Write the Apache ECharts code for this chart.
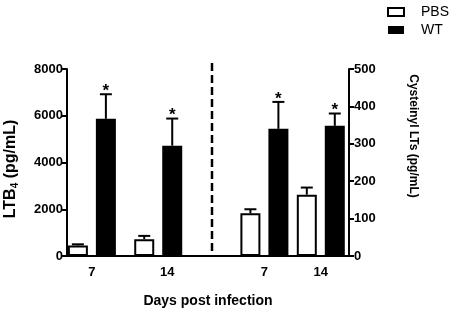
<!DOCTYPE html>
<html>
<head>
<meta charset="utf-8">
<script src="https://cdn.jsdelivr.net/npm/echarts@6/dist/echarts.min.js"></script>
<style>html,body{margin:0;padding:0;background:#fff;}#c{width:454px;height:313px;}</style>
</head>
<body>
<div id="c"></div>
<script>
// ---- data ----
const categories = ['7', '14'];
const ltb4PBS = [450, 720];
const ltb4PBSErr = [50, 140];
const ltb4WT = [5870, 4720];
const ltb4WTErr = [1050, 1160];
const ltb4PBSSig = [false, false];
const ltb4WTSig = [true, true];
const cysPBS = [114, 164];
const cysPBSErr = [11, 19];
const cysWT = [340, 348];
const cysWTErr = [72, 33];
const cysPBSSig = [false, false];
const cysWTSig = [true, true];
const leftTicks = [0, 2000, 4000, 6000, 8000];
const rightTicks = [0, 100, 200, 300, 400, 500];
const seriesNames = ['PBS', 'WT'];

// ---- layout of category slots (which slot each day group falls on) ----
const leftSlotCount = 17, leftSlotIdx = [1, 5];
const rightSlotCount = 5, rightSlotIdx = [3, 4];
const leftLabelShift = [0, 18];   // label nudges (px of left padding)
const rightLabelShift = [0, 0];

function spread(vals, idx, n, fill) {
  const a = new Array(n).fill(fill);
  idx.forEach((k, i) => { a[k] = vals[i]; });
  return a;
}
function slotNames(n) { return Array.from({length: n}, (_, i) => 's' + i); }
function labelTexts(shift) {
  return categories.map((c, i) => shift[i] ? '{p' + shift[i] + '|' + c + '}' : c);
}
const leftLabels = spread(labelTexts(leftLabelShift), leftSlotIdx, leftSlotCount, '');
const rightLabels = spread(labelTexts(rightLabelShift), rightSlotIdx, rightSlotCount, '');

const FONT = "'Liberation Sans', Arial, sans-serif";
const BAR_W = 20, GAP = 8, OFF = (BAR_W + GAP) / 2;

function errData(vals, errs, sig, idx) {
  return vals.map((v, i) => [idx[i], v, errs[i], sig[i] ? 1 : 0]);
}
function errSeries(name, xi, yi, data, offset) {
  return {
    type: 'custom', name: name + '_err', xAxisIndex: xi, yAxisIndex: yi, z: 5,
    encode: {x: 0, y: 1},
    data: data,
    renderItem: function (params, api) {
      const idx = api.value(0), v = api.value(1), e = api.value(2), s = api.value(3);
      const b = api.coord([idx, v]);
      const t = api.coord([idx, v + e]);
      const x = b[0] + offset;
      const children = [
        {type: 'line', shape: {x1: x, y1: b[1], x2: x, y2: t[1]}, style: {stroke: '#000', lineWidth: 2}},
        {type: 'line', shape: {x1: x - 6, y1: t[1], x2: x + 6, y2: t[1]}, style: {stroke: '#000', lineWidth: 2}}
      ];
      if (s) {
        children.push({type: 'text', x: x, y: t[1] - 3,
          style: {text: '*', fill: '#000', font: 'bold 17px ' + FONT, align: 'center', verticalAlign: 'middle'}});
      }
      return {type: 'group', children: children};
    }
  };
}

const chart = echarts.init(document.getElementById('c'), null, {renderer: 'canvas'});
const axisLabelStyle = {color: '#000', fontWeight: 'bold', fontSize: 13, fontFamily: FONT};
const xRich = {p18: {padding: [0, 0, 0, 18], color: '#000', fontWeight: 'bold', fontSize: 13, fontFamily: FONT}};
const option = {
  animation: false,
  backgroundColor: '#fff',
  grid: {left: 67, right: 105, top: 69, bottom: 56, containLabel: false},
  legend: {
    data: seriesNames, orient: 'vertical', left: 382, top: 0,
    itemWidth: 16, itemHeight: 8, itemGap: 4, icon: 'rect',
    textStyle: {color: '#000', fontSize: 14, fontFamily: FONT, padding: [0, 0, 0, 12]}
  },
  xAxis: [
    {type: 'category', position: 'bottom', data: slotNames(leftSlotCount),
      axisLine: {show: true, onZero: false, lineStyle: {color: '#000', width: 2}},
      axisTick: {show: false},
      axisLabel: Object.assign({interval: 0, margin: 10, formatter: (v, i) => leftLabels[i], rich: xRich}, axisLabelStyle),
      name: 'Days post infection', nameLocation: 'middle', nameGap: 38,
      nameTextStyle: {color: '#000', fontWeight: 'bold', fontSize: 14, fontFamily: FONT}
    },
    {type: 'category', position: 'bottom', data: slotNames(rightSlotCount),
      axisLine: {show: false, onZero: false},
      axisTick: {show: false},
      axisLabel: Object.assign({interval: 0, margin: 10, formatter: (v, i) => rightLabels[i], rich: xRich}, axisLabelStyle)
    }
  ],
  yAxis: [
    {type: 'value', position: 'left', min: leftTicks[0], max: leftTicks[leftTicks.length - 1],
      interval: leftTicks[1] - leftTicks[0],
      axisLine: {show: true, lineStyle: {color: '#000', width: 2}},
      axisTick: {show: true, length: 5, lineStyle: {color: '#000', width: 2}},
      axisLabel: Object.assign({margin: 4, formatter: (v) => String(v)}, axisLabelStyle),
      splitLine: {show: false}
    },
    {type: 'value', position: 'right', min: rightTicks[0], max: rightTicks[rightTicks.length - 1],
      interval: rightTicks[1] - rightTicks[0],
      axisLine: {show: true, lineStyle: {color: '#000', width: 2}},
      axisTick: {show: true, length: 5, lineStyle: {color: '#000', width: 2}},
      axisLabel: Object.assign({margin: 5, formatter: (v) => String(v)}, axisLabelStyle),
      splitLine: {show: false}
    }
  ],
  series: [
    {type: 'bar', name: 'PBS', xAxisIndex: 0, yAxisIndex: 0, barWidth: BAR_W, barGap: (GAP / BAR_W * 100) + '%',
      data: spread(ltb4PBS, leftSlotIdx, leftSlotCount, '-'),
      itemStyle: {color: '#fff', borderColor: '#000', borderWidth: 2}},
    {type: 'bar', name: 'WT', xAxisIndex: 0, yAxisIndex: 0, barWidth: BAR_W, barGap: (GAP / BAR_W * 100) + '%',
      data: spread(ltb4WT, leftSlotIdx, leftSlotCount, '-'),
      itemStyle: {color: '#000', borderColor: '#000', borderWidth: 0}},
    {type: 'bar', name: 'PBS', xAxisIndex: 1, yAxisIndex: 1, barWidth: BAR_W, barGap: (GAP / BAR_W * 100) + '%',
      data: spread(cysPBS, rightSlotIdx, rightSlotCount, '-'),
      itemStyle: {color: '#fff', borderColor: '#000', borderWidth: 2}},
    {type: 'bar', name: 'WT', xAxisIndex: 1, yAxisIndex: 1, barWidth: BAR_W, barGap: (GAP / BAR_W * 100) + '%',
      data: spread(cysWT, rightSlotIdx, rightSlotCount, '-'),
      itemStyle: {color: '#000', borderColor: '#000', borderWidth: 0}},
    errSeries('PBS', 0, 0, errData(ltb4PBS, ltb4PBSErr, ltb4PBSSig, leftSlotIdx), -OFF),
    errSeries('WT', 0, 0, errData(ltb4WT, ltb4WTErr, ltb4WTSig, leftSlotIdx), OFF),
    errSeries('PBS', 1, 1, errData(cysPBS, cysPBSErr, cysPBSSig, rightSlotIdx), -OFF),
    errSeries('WT', 1, 1, errData(cysWT, cysWTErr, cysWTSig, rightSlotIdx), OFF)
  ],
  graphic: [
    {type: 'line', shape: {x1: 212, y1: 63, x2: 212, y2: 257}, z: 10,
      style: {stroke: '#000', lineWidth: 2.5, lineDash: [8, 4]}},
    {type: 'text', x: 11, y: 169, rotation: Math.PI / 2,
      style: {text: 'LTB{sub|4} (pg/mL)', align: 'center', verticalAlign: 'middle', fill: '#000',
        font: 'bold 16px ' + FONT,
        rich: {sub: {fontSize: 10, fontWeight: 'bold', fontFamily: FONT, padding: [8, 0, 0, 0]}}}},
    {type: 'text', x: 413, y: 136, rotation: -Math.PI / 2,
      style: {text: 'Cysteinyl LTs (pg/mL)', align: 'center', verticalAlign: 'middle', fill: '#000',
        font: 'bold 12px ' + FONT}}
  ]
};
chart.setOption(option);
</script>
</body>
</html>
